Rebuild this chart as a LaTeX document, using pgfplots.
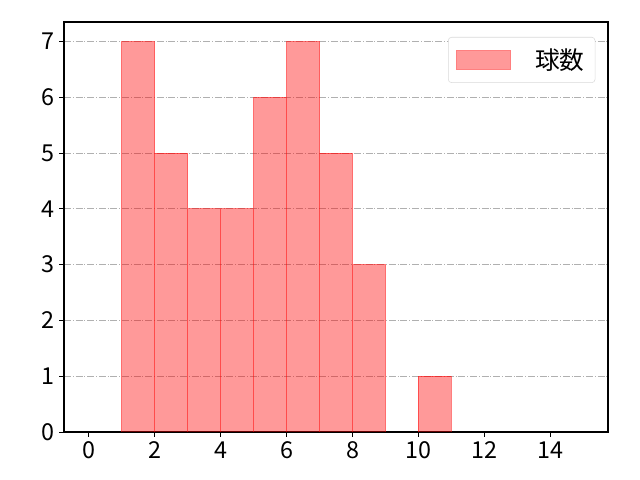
\documentclass[border=0pt]{standalone}
\usepackage{pgfplots}
\pgfplotsset{compat=1.18}
\usepackage{fontspec}
\setmainfont{Noto Sans CJK JP}
\definecolor{gridgray}{HTML}{B0B0B0}

\begin{document}
\begin{tikzpicture}
\begin{axis}[
    scale only axis,
    width=408pt, height=307.5pt,
    xmin=-0.75, xmax=15.75,
    ymin=0, ymax=7.35,
    xtick={0,2,...,14},
    ytick={0,1,...,7},
    tick align=outside,
    tick pos=left,
    major tick length=3.6pt,
    axis line style={line width=0.9pt},
    tick style={black, line width=0.7pt},
    ymajorgrids,
    grid style={gridgray, line width=0.6pt, dash pattern=on 5.3pt off 1.3pt on 0.8pt off 1.3pt},
    font=\fontsize{17.5}{20}\selectfont,
    /pgf/number format/assume math mode=true,
    legend style={at={(rel axis cs:1,1)}, xshift=-9.5pt, yshift=-11.25pt, anchor=north east,
        draw=gray!30, rounded corners=2.5pt, inner xsep=6pt, inner ysep=6.5pt,
        font=\fontsize{18.5}{21}\selectfont},
    legend cell align=left,
]
\addplot[ybar interval, fill=red, fill opacity=0.4, draw=red, draw opacity=0.5, line width=0.6pt,
    area legend,
    legend image code/.code={\fill[sharp corners, red, fill opacity=0.4, draw=red, draw opacity=0.5] (0pt,-7pt) rectangle (40pt,7pt);}]
coordinates {(1,7) (2,5) (3,4) (4,4) (5,6) (6,7) (7,5) (8,3) (9,3)};
\addlegendentry{\hspace{16.5pt}球数}
\addplot[ybar interval, fill=red, fill opacity=0.4, draw=red, draw opacity=0.5, line width=0.6pt, forget plot]
coordinates {(10,1) (11,1)};
\end{axis}
\path (current axis.south west) ++(-48pt,-36pt) coordinate (bl);
\path (current axis.north east) ++(24pt,16.5pt) coordinate (tr);
\path[use as bounding box] (bl) rectangle (tr);
\end{tikzpicture}
\end{document}
